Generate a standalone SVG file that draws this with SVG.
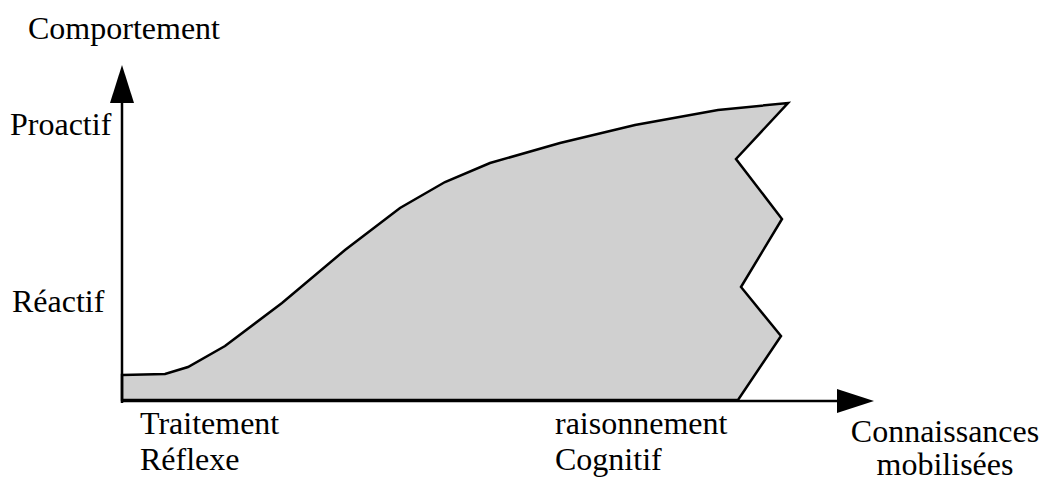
<svg xmlns="http://www.w3.org/2000/svg" width="1042" height="479" viewBox="0 0 1042 479">
<style>
text{font-family:"Liberation Serif","Times New Roman",serif;font-size:32px;fill:#000}
.axis{stroke:#000;stroke-width:2.5;fill:none}
.area{fill:#d0d0d0;stroke:#000;stroke-width:2.5;stroke-linejoin:miter}
</style>
<g id="area">
<polygon class="area" points="122,375 165,374 188,367 225,346 282,303 345,250 400,208 445,182 490,163 560,143 635,125 718,110 788,103 736,159 782,219 741,287 781,336 738,400 122,400"/>
</g>
<g id="connectors">
<line class="axis" x1="122" y1="100" x2="122" y2="403"/>
<polygon points="122,65 110,103 134,103" fill="#000"/>
<line class="axis" x1="121" y1="401" x2="840" y2="401"/>
<polygon points="874,401 837,389 837,413" fill="#000"/>
</g>
<g id="labels">
<text x="28" y="39">Comportement</text>
<text x="10" y="135">Proactif</text>
<text x="12" y="312">Réactif</text>
<text x="140" y="434">Traitement</text>
<text x="140" y="470">Réflexe</text>
<text x="555" y="434">raisonnement</text>
<text x="555" y="470">Cognitif</text>
<text x="945" y="442" text-anchor="middle">Connaissances</text>
<text x="945" y="475" text-anchor="middle">mobilisées</text>
</g>
</svg>
